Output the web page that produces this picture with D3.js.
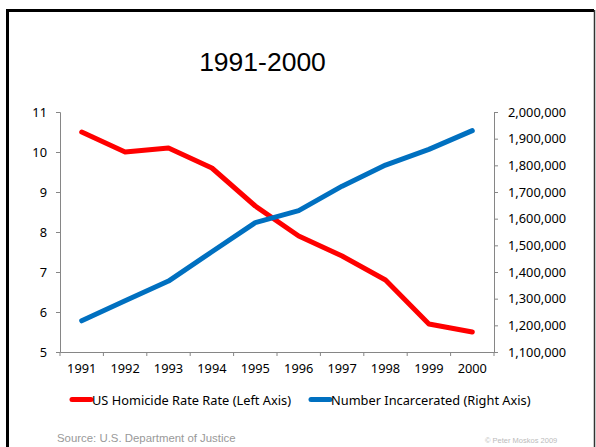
<!DOCTYPE html>
<html>
<head>
<meta charset="utf-8">
<script src="https://cdn.jsdelivr.net/npm/d3@7"></script>
<style>
  body { margin: 0; background: #fff; }
  svg { display: block; }
</style>
</head>
<body>
<div id="chart"></div>
<script>
// Data
const years = ["1991", "1992", "1993", "1994", "1995", "1996", "1997", "1998", "1999", "2000"];
const homicideRate = [10.5, 10.0, 10.1, 9.6, 8.65, 7.9, 7.4, 6.8, 5.7, 5.5];
const incarcerated = [1217000, 1292000, 1366000, 1476000, 1585000, 1630000, 1722000, 1801000, 1860000, 1930000];
const leftTicks = [5, 6, 7, 8, 9, 10, 11];
const rightTicks = [1100000, 1200000, 1300000, 1400000, 1500000, 1600000, 1700000, 1800000, 1900000, 2000000];
const seriesNames = ["US Homicide Rate Rate (Left Axis)", "Number Incarcerated (Right Axis)"];

let width = 596, height = 447;
let margin = { top: 112, bottom: 95, left: 60, right: 102 };

let svg = d3.select('#chart')
    .append('svg')
    .attr('width', width)
    .attr('height', height);

// Slide frame
svg.append('path')
    .attr('d', `M7.5,${height + 5} V10.5 H594`)
    .attr('fill', 'none')
    .attr('stroke', '#000')
    .attr('stroke-width', 3);
svg.append('line')
    .attr('x1', 594.5).attr('y1', 10)
    .attr('x2', 594.5).attr('y2', height)
    .attr('stroke', '#333')
    .attr('stroke-width', 1.5);

// Title
svg.append('text')
    .attr('x', 262.5)
    .attr('y', 71)
    .attr('text-anchor', 'middle')
    .style('font-family', 'Liberation Sans, Arial, sans-serif')
    .style('font-size', '26.5px')
    .text('1991-2000');

// Scales
const xScale = d3.scaleBand()
    .domain(years)
    .range([margin.left, width - margin.right]);

const yLeft = d3.scaleLinear()
    .domain([5, 11])
    .range([height - margin.bottom, margin.top]);

const yRight = d3.scaleLinear()
    .domain([1100000, 2000000])
    .range([height - margin.bottom, margin.top]);

const labelFont = 'Noto Sans, sans-serif';
const axisColor = '#868686';

// Axes
let yaxisL = svg.append('g')
    .attr('transform', `translate(${margin.left},0)`)
    .call(d3.axisLeft(yLeft).tickValues(leftTicks).tickSize(4).tickPadding(9).tickFormat(d3.format('d')));

let yaxisR = svg.append('g')
    .attr('transform', `translate(${width - margin.right},0)`)
    .call(d3.axisRight(yRight).tickValues(rightTicks).tickSize(4).tickPadding(10).tickFormat(d3.format(',')));

let xaxis = svg.append('g')
    .attr('transform', `translate(0,${height - margin.bottom})`)
    .call(d3.axisBottom(xScale).tickSize(0).tickPadding(12));

// tick marks at the band boundaries
xaxis.selectAll('.bound')
    .data(d3.range(years.length + 1))
    .enter()
    .append('line')
    .attr('class', 'bound')
    .attr('x1', i => margin.left + i * xScale.bandwidth())
    .attr('x2', i => margin.left + i * xScale.bandwidth())
    .attr('y1', 0)
    .attr('y2', 4);

[yaxisL, yaxisR, xaxis].forEach(ax => {
    ax.select('.domain').attr('stroke', axisColor);
    ax.selectAll('line').attr('stroke', axisColor);
    ax.selectAll('text')
        .style('font-family', labelFont)
        .style('font-size', '12.8px')
        .attr('fill', '#000');
});

// Lines
const lineLeft = d3.line()
    .x((d, i) => xScale(years[i]) + xScale.bandwidth() / 2)
    .y(d => yLeft(d));

const lineRight = d3.line()
    .x((d, i) => xScale(years[i]) + xScale.bandwidth() / 2)
    .y(d => yRight(d));

svg.append('path')
    .datum(homicideRate)
    .attr('d', lineLeft)
    .attr('fill', 'none')
    .attr('stroke', '#ff0000')
    .attr('stroke-width', 5)
    .attr('stroke-linecap', 'round')
    .attr('stroke-linejoin', 'round');

svg.append('path')
    .datum(incarcerated)
    .attr('d', lineRight)
    .attr('fill', 'none')
    .attr('stroke', '#0070c0')
    .attr('stroke-width', 5)
    .attr('stroke-linecap', 'round')
    .attr('stroke-linejoin', 'round');

// Legend
const legendColors = ['#ff0000', '#0070c0'];
const legendX = [72, 311];
const legend = svg.append('g');
seriesNames.forEach((name, i) => {
    legend.append('line')
        .attr('x1', legendX[i]).attr('x2', legendX[i] + 19)
        .attr('y1', 399.5).attr('y2', 399.5)
        .attr('stroke', legendColors[i])
        .attr('stroke-width', 5)
        .attr('stroke-linecap', 'round');
    legend.append('text')
        .attr('x', legendX[i] + 20)
        .attr('y', 404.5)
        .style('font-family', labelFont)
        .style('font-size', '12.8px')
        .text(name);
});

// Footer
svg.append('text')
    .attr('x', 57)
    .attr('y', 442)
    .style('font-family', 'Liberation Sans, Arial, sans-serif')
    .style('font-size', '11.4px')
    .attr('fill', '#999')
    .text('Source: U.S. Department of Justice');

svg.append('text')
    .attr('x', 485)
    .attr('y', 443)
    .style('font-family', 'Liberation Sans, Arial, sans-serif')
    .style('font-size', '7.5px')
    .attr('fill', '#bbb')
    .text('\u00a9 Peter Moskos 2009');
</script>
</body>
</html>
